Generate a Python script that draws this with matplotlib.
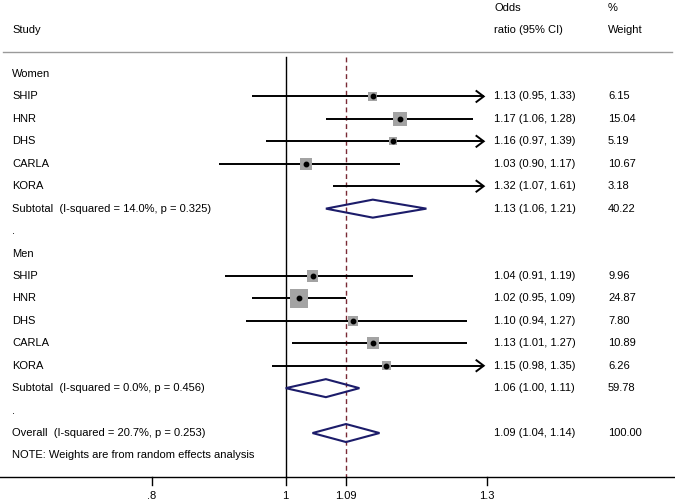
import matplotlib
matplotlib.use("Agg")
import matplotlib.pyplot as plt
from matplotlib.patches import Rectangle, Polygon

plt.rcParams['font.family'] = ['Liberation Sans', 'DejaVu Sans']

# ---- data ----
women_studies = ["SHIP", "HNR", "DHS", "CARLA", "KORA"]
women_or = [1.13, 1.17, 1.16, 1.03, 1.32]
women_lo = [0.95, 1.06, 0.97, 0.90, 1.07]
women_hi = [1.33, 1.28, 1.39, 1.17, 1.61]
women_w = [6.15, 15.04, 5.19, 10.67, 3.18]
women_sub = (1.13, 1.06, 1.21, 40.22)
women_sub_label = "Subtotal  (I-squared = 14.0%, p = 0.325)"

men_studies = ["SHIP", "HNR", "DHS", "CARLA", "KORA"]
men_or = [1.04, 1.02, 1.10, 1.13, 1.15]
men_lo = [0.91, 0.95, 0.94, 1.01, 0.98]
men_hi = [1.19, 1.09, 1.27, 1.27, 1.35]
men_w = [9.96, 24.87, 7.80, 10.89, 6.26]
men_sub = (1.06, 1.00, 1.11, 59.78)
men_sub_label = "Subtotal  (I-squared = 0.0%, p = 0.456)"

overall = (1.09, 1.04, 1.14, 100.00)
overall_label = "Overall  (I-squared = 20.7%, p = 0.253)"
note = "NOTE: Weights are from random effects analysis"

xticks = [0.8, 1.0, 1.09, 1.3]
xtick_labels = [".8", "1", "1.09", "1.3"]
null_value = 1.0
pooled_line = 1.09
clip_hi = 1.3

# ---- layout ----
W, H = 675, 504
fig = plt.figure(figsize=(W / 100, H / 100), dpi=100)
ax = fig.add_axes([0, 0, 1, 1])
px_per_unit = 670.0
x1_pix = 285.7
xmin = 1 - x1_pix / px_per_unit
xmax = xmin + W / px_per_unit
ax.set_xlim(xmin, xmax)
ax.set_ylim(H, 0)
ax.axis('off')

def fx(px):
    return xmin + px / px_per_unit

FS = 8.0
y0 = 74.0
step = 22.44
x_study = fx(12)
x_or = fx(494)
x_w = fx(608)

sq_k = 3.65  # px per sqrt(weight)
diamond_h = 18.0
navy = "#1c1c6a"
grey = "#a3a3a3"
ci_lw = 1.4

def fmt(o, l, h):
    return f"{o:.2f} ({l:.2f}, {h:.2f})"

def draw_study(row, name, o, l, h, w):
    y = y0 + row * step
    ax.text(x_study, y, name, fontsize=FS, va='center', ha='left')
    if h > clip_hi:
        tip = clip_hi - 3 / px_per_unit
        ax.plot([l, tip], [y, y], color='black', lw=ci_lw, solid_capstyle='butt')
        back = tip - 8 / px_per_unit
        ax.plot([back, tip, back], [y - 6, y, y + 6], color='black', lw=ci_lw,
                solid_joinstyle='miter', solid_capstyle='butt')
    else:
        ax.plot([l, h], [y, y], color='black', lw=ci_lw, solid_capstyle='butt')
    if o <= clip_hi:
        side = sq_k * w ** 0.5
        ax.add_patch(Rectangle((o - side / 2 / px_per_unit, y - side / 2),
                               side / px_per_unit, side, facecolor=grey,
                               edgecolor='none', zorder=3))
        ax.plot([o], [y], 'o', color='black', ms=3.2, zorder=4)
    ax.text(x_or, y, fmt(o, l, h), fontsize=FS, va='center', ha='left')
    ax.text(x_w, y, f"{w:.2f}", fontsize=FS, va='center', ha='left')

def draw_diamond(row, label, vals):
    o, l, h, w = vals
    y = y0 + row * step
    ax.text(x_study, y, label, fontsize=FS, va='center', ha='left')
    pts = [(l, y), (o, y - diamond_h / 2), (h, y), (o, y + diamond_h / 2)]
    ax.add_patch(Polygon(pts, closed=True, facecolor='none', edgecolor=navy,
                         lw=1.5, zorder=3))
    ax.text(x_or, y, fmt(o, l, h), fontsize=FS, va='center', ha='left')
    ax.text(x_w, y, f"{w:.2f}", fontsize=FS, va='center', ha='left')

# header
ax.text(x_study, 30, "Study", fontsize=FS, va='center', ha='left')
ax.text(x_or, 8, "Odds", fontsize=FS, va='center', ha='left')
ax.text(x_or, 30, "ratio (95% CI)", fontsize=FS, va='center', ha='left')
ax.text(x_w, 8, "%", fontsize=FS, va='center', ha='left')
ax.text(x_w, 30, "Weight", fontsize=FS, va='center', ha='left')
ax.plot([fx(3), fx(672)], [52, 52], color='#9a9a9a', lw=1.0)

axis_y = 477
top_y = 57
ax.plot([null_value, null_value], [top_y, axis_y], color='black', lw=1.0)
ax.plot([pooled_line, pooled_line], [top_y, axis_y], color='#7a2a35', lw=1.0,
        linestyle=(0, (3.5, 2.5)))

row = 0
ax.text(x_study, y0 + row * step, "Women", fontsize=FS, va='center', ha='left')
for i in range(len(women_studies)):
    row += 1
    draw_study(row, women_studies[i], women_or[i], women_lo[i], women_hi[i], women_w[i])
row += 1
draw_diamond(row, women_sub_label, women_sub)
row += 1
ax.text(x_study, y0 + row * step, ".", fontsize=FS, va='center', ha='left')
row += 1
ax.text(x_study, y0 + row * step, "Men", fontsize=FS, va='center', ha='left')
for i in range(len(men_studies)):
    row += 1
    draw_study(row, men_studies[i], men_or[i], men_lo[i], men_hi[i], men_w[i])
row += 1
draw_diamond(row, men_sub_label, men_sub)
row += 1
ax.text(x_study, y0 + row * step, ".", fontsize=FS, va='center', ha='left')
row += 1
draw_diamond(row, overall_label, overall)
row += 1
ax.text(x_study, y0 + row * step, note, fontsize=FS, va='center', ha='left')

# x axis
ax.plot([xmin, xmax], [axis_y, axis_y], color='black', lw=1.0)
for t, lab in zip(xticks, xtick_labels):
    ax.plot([t, t], [axis_y, axis_y + 8], color='black', lw=1.0)
    ax.text(t, axis_y + 19, lab, fontsize=FS, va='center', ha='center')

fig.savefig("out.png", dpi=100, facecolor='white')
